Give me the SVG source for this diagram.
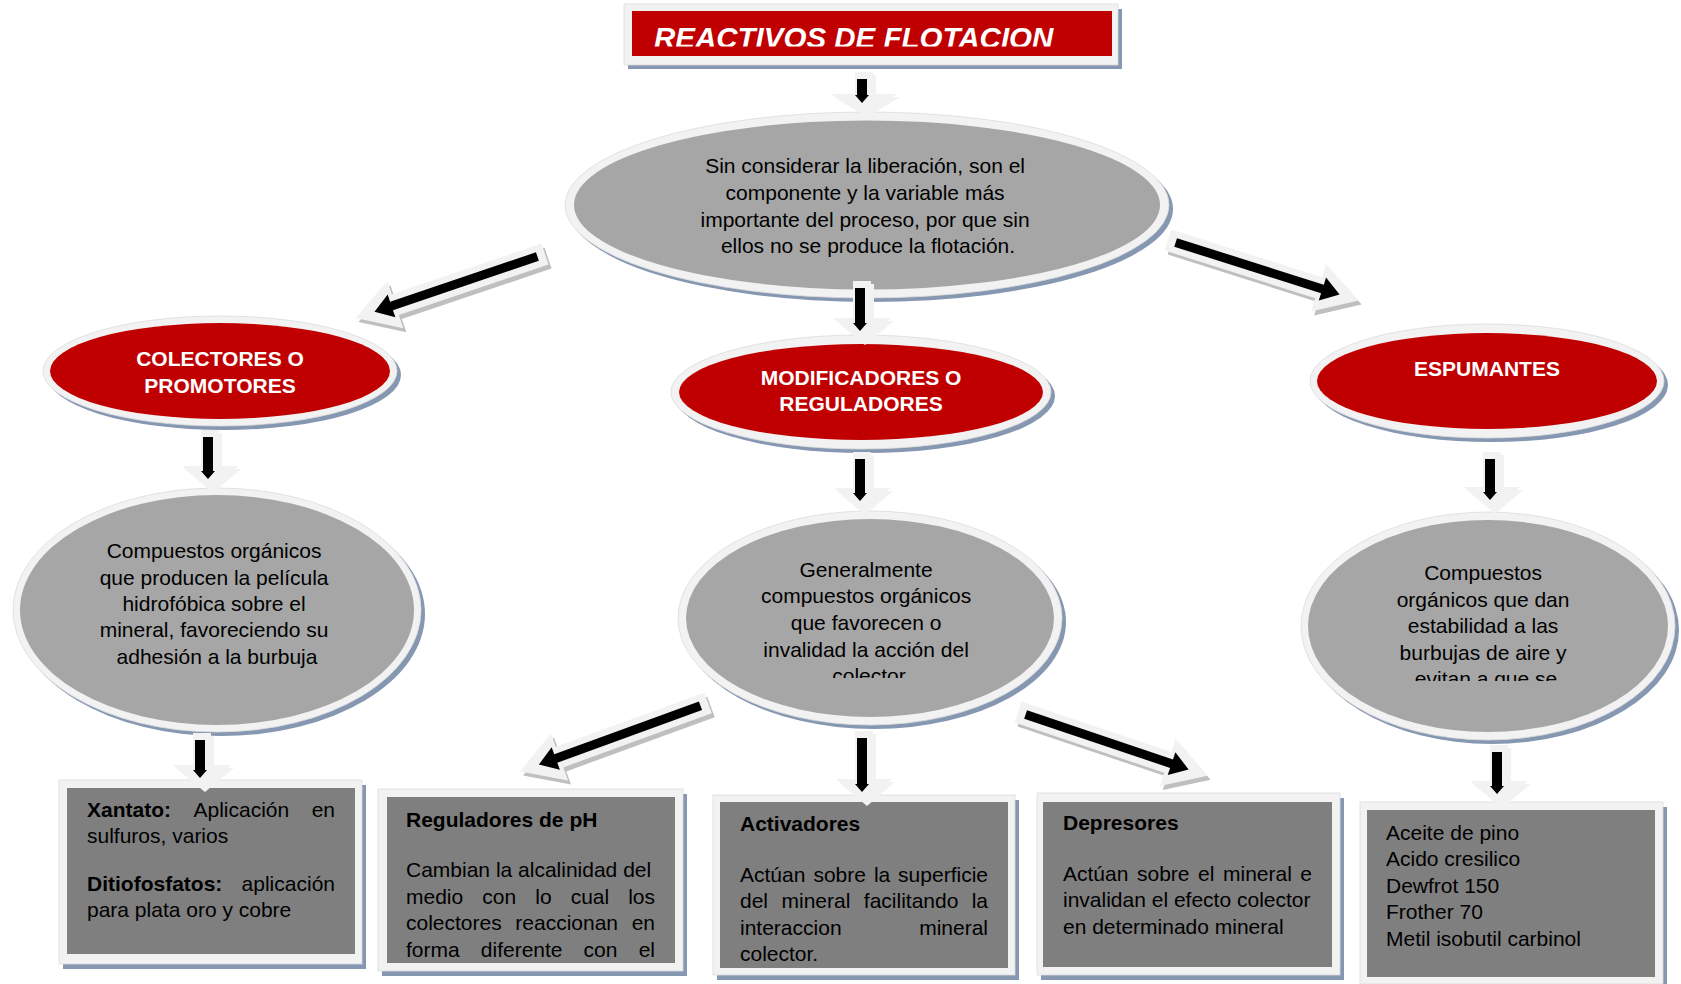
<svg xmlns="http://www.w3.org/2000/svg" xmlns:xlink="http://www.w3.org/1999/xlink" width="1681" height="984" viewBox="0 0 1681 984">
  <style>
    .shadow { fill: #8597b1; }
    .ring { fill: #f2f2f2; stroke: #dcdcdc; stroke-width: 0.8; }
    .red { fill: #c00000; }
    .gray { fill: #a6a6a6; }
    .box { fill: #7f7f7f; }
    .t { font-family: "Liberation Sans", Arial, sans-serif; font-size: 21px; fill: #000; }
    .c { text-anchor: middle; }
    .e { text-anchor: end; }
    .b { font-weight: bold; }
    .lbl { font-family: "Liberation Sans", Arial, sans-serif; font-size: 21px; font-weight: bold; fill: #fff; text-anchor: middle; }
    .title { font-family: "Liberation Sans", Arial, sans-serif; font-size: 29.5px; font-weight: bold; font-style: italic; fill: #fff; }
    .a-sh { fill: #bfbfbf; }
    .a-lt { fill: #f2f2f2; }
    .a-bk { fill: #000; }
  </style>
  <defs>
    <!-- long diagonal block arrow, drawn along +x from tail (0,0) to tip (200,0) -->
    <path id="diag" d="M0,-11 H158 V-25 L200,0 L158,25 V11 H0 Z"/>
    <path id="diagInk" d="M8,-4.5 H162 V-12 L180,0 L162,12 V4.5 H8 Z"/>
    <clipPath id="clipTitle"><rect x="632" y="11" width="480" height="35.5"/></clipPath>
    <clipPath id="clipMid"><rect x="680" y="520" width="380" height="158"/></clipPath>
    <clipPath id="clipRight"><rect x="1300" y="520" width="380" height="161"/></clipPath>
  </defs>

  <rect width="1681" height="984" fill="#fff"/>

  <!-- title -->
  <g id="title">
    <rect class="shadow" x="628" y="9" width="494" height="60"/>
    <rect class="ring" x="624" y="4" width="494" height="61"/>
    <rect class="red" x="632" y="11" width="480" height="45"/>
    <text class="title" x="654" y="48" clip-path="url(#clipTitle)">REACTIVOS DE FLOTACION</text>
  </g>

  <!-- central definition -->
  <g id="definicion">
    <ellipse class="shadow" cx="871" cy="209" rx="302" ry="93"/>
    <ellipse class="ring" cx="867" cy="205" rx="302" ry="93"/>
    <ellipse class="gray" cx="867" cy="205" rx="293" ry="84.5"/>
    <text class="t c">
      <tspan x="868" y="173">Sin considerar la liberación, son el</tspan>
      <tspan x="868" y="200">componente y la variable más</tspan>
      <tspan x="868" y="227">importante del proceso, por que sin</tspan>
      <tspan x="868" y="253">ellos no se produce la flotación.</tspan>
    </text>
  </g>

  <!-- three reagent families -->
  <g id="colectores">
    <ellipse class="shadow" cx="224" cy="375" rx="177" ry="55"/>
    <ellipse class="ring" cx="220" cy="371" rx="177" ry="55"/>
    <ellipse class="red" cx="220" cy="371" rx="170" ry="48"/>
    <text class="lbl"><tspan x="220" y="366">COLECTORES O</tspan><tspan x="220" y="393">PROMOTORES</tspan></text>
  </g>

  <g id="modificadores">
    <ellipse class="shadow" cx="865" cy="396" rx="190" ry="57"/>
    <ellipse class="ring" cx="861" cy="392" rx="190" ry="57"/>
    <ellipse class="red" cx="861" cy="392" rx="182" ry="48"/>
    <text class="lbl"><tspan x="861" y="385">MODIFICADORES O</tspan><tspan x="861" y="411">REGULADORES</tspan></text>
  </g>

  <g id="espumantes">
    <ellipse class="shadow" cx="1491" cy="385" rx="177" ry="57"/>
    <ellipse class="ring" cx="1487" cy="381" rx="177" ry="57"/>
    <ellipse class="red" cx="1487" cy="381" rx="170" ry="48"/>
    <text class="lbl" x="1487" y="376">ESPUMANTES</text>
  </g>

  <!-- descriptions -->
  <g id="desc-colectores">
    <ellipse class="shadow" cx="221" cy="614" rx="204" ry="122"/>
    <ellipse class="ring" cx="217" cy="610" rx="204" ry="122"/>
    <ellipse class="gray" cx="217" cy="610" rx="197" ry="115"/>
    <text class="t c">
      <tspan x="217" y="558">Compuestos orgánicos</tspan>
      <tspan x="217" y="585">que producen la película</tspan>
      <tspan x="217" y="611">hidrofóbica sobre el</tspan>
      <tspan x="217" y="637">mineral, favoreciendo su</tspan>
      <tspan x="217" y="664">adhesión a la burbuja</tspan>
    </text>
  </g>

  <g id="desc-modificadores">
    <ellipse class="shadow" cx="874" cy="622" rx="192" ry="107"/>
    <ellipse class="ring" cx="870" cy="618" rx="192" ry="107"/>
    <ellipse class="gray" cx="870" cy="618" rx="184" ry="99"/>
    <text class="t c" clip-path="url(#clipMid)">
      <tspan x="869" y="577">Generalmente</tspan>
      <tspan x="869" y="603">compuestos orgánicos</tspan>
      <tspan x="869" y="630">que favorecen o</tspan>
      <tspan x="869" y="657">invalidad la acción del</tspan>
      <tspan x="869" y="683">colector</tspan>
    </text>
  </g>

  <g id="desc-espumantes">
    <ellipse class="shadow" cx="1492" cy="630" rx="187" ry="114"/>
    <ellipse class="ring" cx="1488" cy="626" rx="187" ry="114"/>
    <ellipse class="gray" cx="1488" cy="626" rx="180" ry="106"/>
    <text class="t c" clip-path="url(#clipRight)">
      <tspan x="1486" y="580">Compuestos</tspan>
      <tspan x="1486" y="607">orgánicos que dan</tspan>
      <tspan x="1486" y="633">estabilidad a las</tspan>
      <tspan x="1486" y="660">burbujas de aire y</tspan>
      <tspan x="1486" y="686">evitan a que se</tspan>
    </text>
  </g>

  <!-- detail boxes -->
  <g id="xantato">
    <rect class="shadow" x="63" y="785" width="303" height="184"/>
    <rect class="ring" x="59" y="780" width="303" height="184"/>
    <rect class="box" x="67" y="788" width="288" height="166"/>
    <text class="t"><tspan class="b" x="87" y="817">Xantato:</tspan><tspan x="193.5" y="817">Aplicación</tspan><tspan class="e" x="335" y="817">en</tspan></text>
    <text class="t" x="87" y="843">sulfuros, varios</text>
    <text class="t"><tspan class="b" x="87" y="891">Ditiofosfatos:</tspan></text>
    <text class="t e" x="335" y="891">aplicación</text>
    <text class="t" x="87" y="917">para plata oro y cobre</text>
  </g>

  <g id="reguladores-ph">
    <rect class="shadow" x="382" y="794" width="305" height="182"/>
    <rect class="ring" x="378" y="789" width="305" height="182"/>
    <rect class="box" x="387" y="797" width="288" height="166"/>
    <text class="t b" x="406" y="827">Reguladores de pH</text>
    <text class="t" x="406" y="877">Cambian la alcalinidad del</text>
    <text class="t"><tspan x="406" y="904">medio</tspan><tspan x="482.3" y="904">con</tspan><tspan x="535.3" y="904">lo</tspan><tspan x="570.7" y="904">cual</tspan><tspan class="e" x="655" y="904">los</tspan></text>
    <text class="t"><tspan x="406" y="930">colectores</tspan><tspan x="515.3" y="930">reaccionan</tspan><tspan class="e" x="655" y="930">en</tspan></text>
    <text class="t"><tspan x="406" y="957">forma</tspan><tspan x="480.8" y="957">diferente</tspan><tspan x="583.6" y="957">con</tspan><tspan class="e" x="655" y="957">el</tspan></text>
  </g>

  <g id="activadores">
    <rect class="shadow" x="717" y="800" width="302" height="180"/>
    <rect class="ring" x="713" y="795" width="302" height="180"/>
    <rect class="box" x="720" y="802" width="288" height="166"/>
    <text class="t b" x="740" y="831">Activadores</text>
    <text class="t"><tspan x="740" y="882">Actúan</tspan><tspan x="813.4" y="882">sobre</tspan><tspan x="873.9" y="882">la</tspan><tspan class="e" x="988" y="882">superficie</tspan></text>
    <text class="t"><tspan x="740" y="908">del</tspan><tspan x="781.5" y="908">mineral</tspan><tspan x="863.8" y="908">facilitando</tspan><tspan class="e" x="988" y="908">la</tspan></text>
    <text class="t"><tspan x="740" y="935">interaccion</tspan><tspan class="e" x="988" y="935">mineral</tspan></text>
    <text class="t" x="740" y="961">colector.</text>
  </g>

  <g id="depresores">
    <rect class="shadow" x="1041" y="798" width="303" height="182"/>
    <rect class="ring" x="1037" y="793" width="303" height="182"/>
    <rect class="box" x="1043" y="802" width="289" height="165"/>
    <text class="t b" x="1063" y="830">Depresores</text>
    <text class="t"><tspan x="1063" y="881">Actúan</tspan><tspan x="1137" y="881">sobre</tspan><tspan x="1198.1" y="881">el</tspan><tspan x="1223" y="881">mineral</tspan><tspan class="e" x="1312" y="881">e</tspan></text>
    <text class="t" x="1063" y="907">invalidan el efecto colector</text>
    <text class="t" x="1063" y="934">en determinado mineral</text>
  </g>

  <g id="espumantes-lista">
    <rect class="shadow" x="1364" y="807" width="303" height="182"/>
    <rect class="ring" x="1360" y="802" width="303" height="182"/>
    <rect class="box" x="1367" y="810" width="288" height="167"/>
    <text class="t">
      <tspan x="1386" y="840">Aceite de pino</tspan>
      <tspan x="1386" y="866">Acido cresilico</tspan>
      <tspan x="1386" y="893">Dewfrot 150</tspan>
      <tspan x="1386" y="919">Frother 70</tspan>
      <tspan x="1386" y="946">Metil isobutil carbinol</tspan>
    </text>
  </g>

  <!-- block arrows -->
  <g id="connectors">
    <g id="a-title-def">
      <use href="#p1" class="a-sh" transform="translate(3,3)"/>
      <path id="p1" class="a-lt" d="M855,72 H873 V94 H897 L864,114 L831,94 H855 Z"/>
      <path class="a-bk" d="M857,79 H867 V95 H869 L862,103 L855,95 H857 Z"/>
    </g>
    <g id="a-def-mod">
      <use href="#p2" class="a-sh" transform="translate(3,3)"/>
      <path id="p2" class="a-lt" d="M853,281 H871 V318 H891 L862,342 L833,318 H853 Z"/>
      <path class="a-bk" d="M855,288 H865 V323 H867 L860,331 L853,323 H855 Z"/>
    </g>
    <g id="a-col-desc">
      <use href="#p3" class="a-sh" transform="translate(3,3)"/>
      <path id="p3" class="a-lt" d="M201,430 H219 V466 H238 L210,490 L182,466 H201 Z"/>
      <path class="a-bk" d="M203,437 H213 V471 H215 L208,479 L201,471 H203 Z"/>
    </g>
    <g id="a-mod-desc">
      <use href="#p4" class="a-sh" transform="translate(3,3)"/>
      <path id="p4" class="a-lt" d="M853,452 H871 V488 H890 L862,512 L834,488 H853 Z"/>
      <path class="a-bk" d="M855,459 H865 V493 H867 L860,501 L853,493 H855 Z"/>
    </g>
    <g id="a-esp-desc">
      <use href="#p5" class="a-sh" transform="translate(3,3)"/>
      <path id="p5" class="a-lt" d="M1483,452 H1501 V487 H1520 L1492,511 L1464,487 H1483 Z"/>
      <path class="a-bk" d="M1485,459 H1495 V492 H1497 L1490,500 L1483,492 H1485 Z"/>
    </g>
    <g id="a-col-xantato">
      <use href="#p6" class="a-sh" transform="translate(3,3)"/>
      <path id="p6" class="a-lt" d="M193,733 H211 V765 H231 L202,789 L173,765 H193 Z"/>
      <path class="a-bk" d="M195,740 H205 V770 H207 L200,778 L193,770 H195 Z"/>
    </g>
    <g id="a-mod-activadores">
      <use href="#p7" class="a-sh" transform="translate(3,3)"/>
      <path id="p7" class="a-lt" d="M855,731 H873 V779 H892 L864,803 L836,779 H855 Z"/>
      <path class="a-bk" d="M857,738 H867 V784 H869 L862,792 L855,784 H857 Z"/>
    </g>
    <g id="a-esp-lista">
      <use href="#p8" class="a-sh" transform="translate(3,3)"/>
      <path id="p8" class="a-lt" d="M1490,745 H1508 V781 H1528 L1499,805 L1470,781 H1490 Z"/>
      <path class="a-bk" d="M1492,752 H1502 V786 H1504 L1497,794 L1490,786 H1492 Z"/>
    </g>
    <g id="a-def-col">
      <use href="#diag" class="a-sh" transform="translate(548,258) rotate(161.3)"/>
      <use href="#diag" class="a-lt" transform="translate(545,254) rotate(161.3)"/>
      <use href="#diagInk" class="a-bk" transform="translate(545,254) rotate(161.3)"/>
    </g>
    <g id="a-def-esp">
      <use href="#diag" class="a-sh" transform="translate(1171,244) rotate(17.6)"/>
      <use href="#diag" class="a-lt" transform="translate(1168,240) rotate(17.6)"/>
      <use href="#diagInk" class="a-bk" transform="translate(1168,240) rotate(17.6)"/>
    </g>
    <g id="a-mod-ph">
      <use href="#diag" class="a-sh" transform="translate(711,707) rotate(160)"/>
      <use href="#diag" class="a-lt" transform="translate(708,703) rotate(160)"/>
      <use href="#diagInk" class="a-bk" transform="translate(708,703) rotate(160)"/>
    </g>
    <g id="a-mod-depresores">
      <use href="#diag" class="a-sh" transform="translate(1021,716) rotate(18.6)"/>
      <use href="#diag" class="a-lt" transform="translate(1018,712) rotate(18.6)"/>
      <use href="#diagInk" class="a-bk" transform="translate(1018,712) rotate(18.6)"/>
    </g>
  </g>
</svg>
